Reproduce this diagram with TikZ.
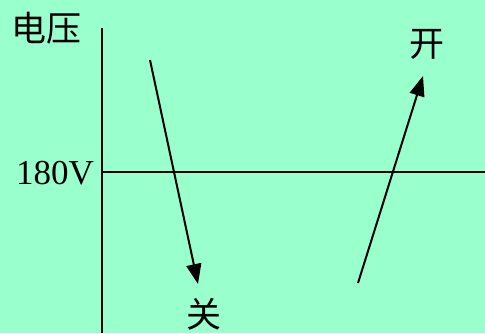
\documentclass[tikz,border=0pt]{standalone}
\usepackage{fontspec}
\setmainfont{Liberation Serif}
\newfontfamily\cjk{Noto Sans CJK SC}
\usetikzlibrary{arrows.meta}
\definecolor{bggreen}{RGB}{153,255,204}

\begin{document}
\begin{tikzpicture}[x=1pt,y=-1pt,
	axis/.style={line width=2pt},
	swing/.style={line width=2pt,-{Triangle[length=20pt,width=15pt]}},
	lbl/.style={font=\fontsize{35}{35}\selectfont,inner sep=0pt}]
	\fill[bggreen] (0,0) rectangle (485,333);
	\useasboundingbox (0,0) rectangle (485,333);
	% axes
	\coordinate (top) at (102,28);
	\coordinate (bottom) at (102,333);
	\coordinate (mid) at (102,172);
	\coordinate (right) at (485,172);
	\draw[axis] (top) -- (bottom);
	\draw[axis] (mid) -- (right);
	\node[lbl] (volt) at (47,28) {\cjk 电压};
	\node[lbl,anchor=east] (level) at (94,173) {180V};
	% switching arrows
	\coordinate (offstart) at (150,60);
	\coordinate (offend) at (198,284);
	\coordinate (onstart) at (358,283);
	\coordinate (onend) at (423,76);
	\draw[swing] (offstart) -- (offend);
	\draw[swing] (onstart) -- (onend);
	\node[lbl] (off) at (204,314) {\cjk 关};
	\node[lbl] (on) at (427,44) {\cjk 开};
\end{tikzpicture}
\end{document}
